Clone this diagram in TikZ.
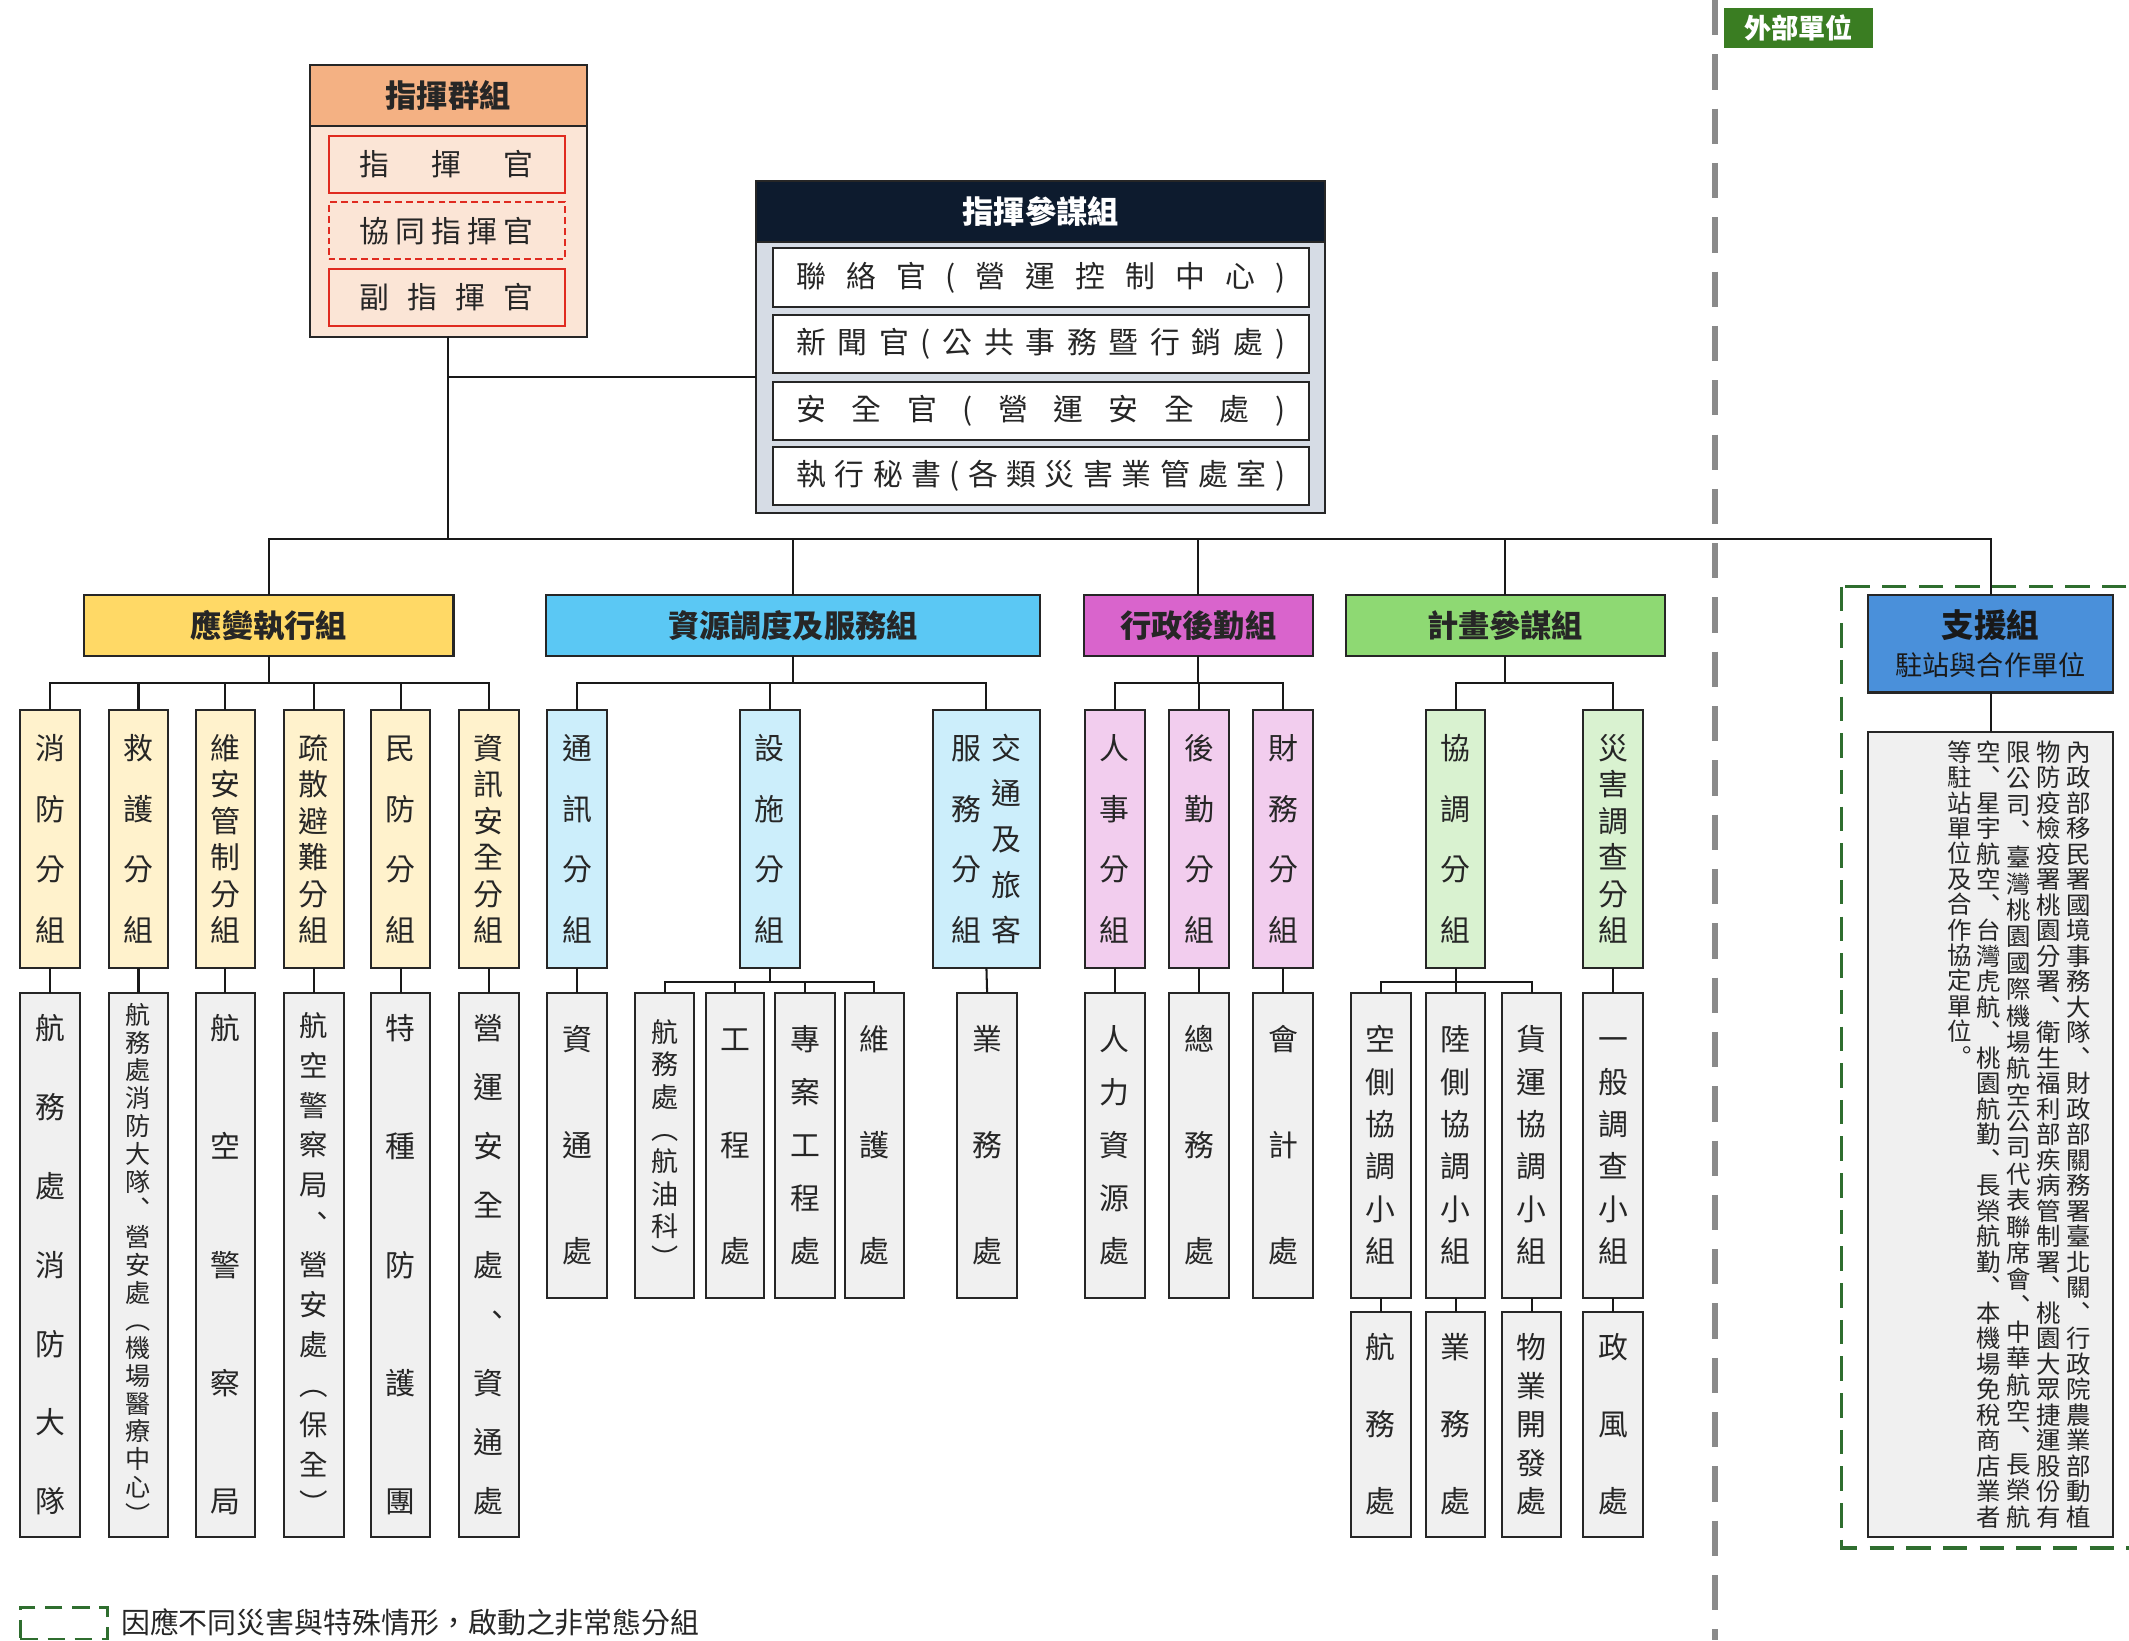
\documentclass[tikz,border=0pt]{standalone}
\usepackage{fontspec}
\setmainfont{Noto Sans CJK TC}
\definecolor{cgHead}{HTML}{F4B183}
\definecolor{cgBody}{HTML}{FBE5D6}
\definecolor{cgRed}{HTML}{E02B20}
\definecolor{csHead}{HTML}{0D1B2E}
\definecolor{csBody}{HTML}{D6DCE5}
\definecolor{yHead}{HTML}{FFD966}
\definecolor{ySub}{HTML}{FFF2CC}
\definecolor{bHead}{HTML}{5BC8F4}
\definecolor{bSub}{HTML}{CCEEFB}
\definecolor{pHead}{HTML}{D964CC}
\definecolor{pSub}{HTML}{F2CDEE}
\definecolor{gHead}{HTML}{8ED973}
\definecolor{gSub}{HTML}{D9F2D0}
\definecolor{sHead}{HTML}{4A90DA}
\definecolor{lowFill}{HTML}{F0F0F0}
\definecolor{extGreen}{HTML}{3A7D22}
\definecolor{dashGreen}{HTML}{2F6E2F}
\definecolor{divGray}{HTML}{8A8A8A}
\newcommand\lp{(}
\newcommand\rp{)}
% vertical stack, chars evenly spread: font size, span between first and last centre, list
\newcommand\VS[3]{%
  \fontsize{#1}{#1}\selectfont
  \vbox to \dimexpr #2pt+1em\relax{%
    \offinterlineskip
    \foreach \c [count=\i] in {#3}{%
      \ifnum\i>1 \vfill\fi
      \hbox to 1em{\hss\vrule height .88em depth .12em width 0pt\c\hss}}}}
% vertical stack with fixed pitch, top aligned
\newcommand\VSF[4]{%
  \fontsize{#1}{#1}\selectfont
  \vbox to \dimexpr #2pt+1em\relax{%
    \offinterlineskip
    \foreach \c [count=\i] in {#4}{%
      \ifnum\i>1 \vskip\dimexpr #3pt-1em\relax\fi
      \hbox to 1em{\hss\vrule height .88em depth .12em width 0pt\c\hss}}\vfill}}
% horizontal distributed text
\newcommand\HS[3]{%
  \fontsize{#1}{#1}\selectfont
  \hbox to #2pt{\foreach \c [count=\i] in {#3}{\ifnum\i>1 \hfill\fi\c}}}
% box by corners
\newcommand\B[7]{\node[#2,minimum width={(#5-#3)*1pt},minimum height={(#6-#4)*1pt}] (#1) at ({(#3+#5)/2},{(#4+#6)/2}) {#7};}
\tikzset{
  conn/.style={draw=black!90, line width=1.5pt},
  bx/.style={draw=black!85, line width=1.5pt, inner sep=0pt, outer sep=0pt, rectangle, text=black!85},
  hd/.style={bx, font=\bfseries\fontsize{23}{26}\selectfont},
  lo/.style={bx, fill=lowFill},
  redbox/.style={bx, draw=cgRed, fill=cgBody, line width=1.6pt},
  wbox/.style={bx, fill=white},
  divider/.style={draw=divGray, line width=4pt, dash pattern=on 26pt off 14pt},
  gdash/.style={draw=dashGreen, line width=2.4pt, dash pattern=on 18pt off 9pt},
}
\begin{document}
\begin{tikzpicture}[x=1pt,y=-1pt]
\useasboundingbox (0,0) rectangle (1568,1208);
\fill[white] (0,0) rectangle (1568,1208);
% separators
\draw[divider] (1263,0) -- (1263,1208);
\draw[gdash] (1356,432) rectangle (1590,1140);
\B{ext}{bx,draw=extGreen,fill=extGreen,text=white,line width=.8pt,font=\bfseries\fontsize{20}{22}\selectfont}{1270}{6}{1379}{35}{外部單位}

% command group
\B{cg}{bx,fill=cgBody}{228}{48}{432}{248}{}
\B{cgh}{hd,fill=cgHead}{228}{48}{432}{93}{指揮群組}
\B{cg1}{redbox}{242}{100}{416}{142}{\HS{22}{128}{指,揮,官}}
\B{cg2}{redbox,dash pattern=on 5pt off 3pt}{242}{149}{416}{191}{\HS{22}{128}{協,同,指,揮,官}}
\B{cg3}{redbox}{242}{198}{416}{240}{\HS{22}{128}{副,指,揮,官}}

% staff group
\B{cs}{bx,fill=csBody}{557}{133}{976}{378}{}
\B{csh}{hd,fill=csHead,text=white}{557}{133}{976}{178}{指揮參謀組}
\B{cs1}{wbox}{569}{183}{964}{226}{\HS{22}{360}{聯,絡,官,\lp,營,運,控,制,中,心,\rp}}
\B{cs2}{wbox}{569}{232}{964}{275}{\HS{22}{360}{新,聞,官,\lp,公,共,事,務,暨,行,銷,處,\rp}}
\B{cs3}{wbox}{569}{281}{964}{324}{\HS{22}{360}{安,全,官,\lp,營,運,安,全,處,\rp}}
\B{cs4}{wbox}{569}{329}{964}{372}{\HS{22}{360}{執,行,秘,書,\lp,各,類,災,害,業,管,處,室,\rp}}

% group headers
\B{g1}{hd,fill=yHead}{62}{438}{334}{483}{應變執行組}
\B{g2}{hd,fill=bHead}{402}{438}{766}{483}{資源調度及服務組}
\B{g3}{hd,fill=pHead}{798}{438}{967}{483}{行政後勤組}
\B{g4}{hd,fill=gHead}{991}{438}{1226}{483}{計畫參謀組}
\B{g5}{bx,fill=sHead,align=center,text=black!90,font=\fontsize{20}{28}\selectfont}{1376}{438}{1556}{510}{{\bfseries\fontsize{24}{28}\selectfont 支援組}\\駐站與合作單位}

% subgroups
\B{a1}{bx,fill=ySub}{15}{523}{59}{713}{\VS{22}{132}{消,防,分,組}}
\B{a2}{bx,fill=ySub}{80}{523}{124}{713}{\VS{22}{132}{救,護,分,組}}
\B{a3}{bx,fill=ySub}{144}{523}{188}{713}{\VS{22}{132}{維,安,管,制,分,組}}
\B{a4}{bx,fill=ySub}{209}{523}{253}{713}{\VS{22}{132}{疏,散,避,難,分,組}}
\B{a5}{bx,fill=ySub}{273}{523}{317}{713}{\VS{22}{132}{民,防,分,組}}
\B{a6}{bx,fill=ySub}{338}{523}{382}{713}{\VS{22}{132}{資,訊,安,全,分,組}}
\B{b1}{bx,fill=bSub}{403}{523}{447}{713}{\VS{22}{132}{通,訊,分,組}}
\B{b2}{bx,fill=bSub}{545}{523}{589}{713}{\VS{22}{132}{設,施,分,組}}
\B{b3}{bx,fill=bSub}{687}{523}{766}{713}{\hbox{\VS{22}{132}{服,務,分,組}\hspace{7pt}\VS{22}{132}{交,通,及,旅,客}}}
\B{c1}{bx,fill=pSub}{799}{523}{843}{713}{\VS{22}{132}{人,事,分,組}}
\B{c2}{bx,fill=pSub}{861}{523}{905}{713}{\VS{22}{132}{後,勤,分,組}}
\B{c3}{bx,fill=pSub}{923}{523}{967}{713}{\VS{22}{132}{財,務,分,組}}
\B{d1}{bx,fill=gSub}{1050}{523}{1094}{713}{\VS{22}{132}{協,調,分,組}}
\B{d2}{bx,fill=gSub}{1166}{523}{1210}{713}{\VS{22}{132}{災,害,調,查,分,組}}

% units
\B{A1}{lo}{15}{731}{59}{1132}{\VS{22}{346}{航,務,處,消,防,大,隊}}
\B{A2}{lo}{80}{731}{124}{1132}{\VS{18.5}{366}{航,務,處,消,防,大,隊,︑,營,安,處,︵,機,場,醫,療,中,心,︶}}
\B{A3}{lo}{144}{731}{188}{1132}{\VS{22}{346}{航,空,警,察,局}}
\B{A4}{lo}{209}{731}{253}{1132}{\VS{21}{350}{航,空,警,察,局,︑,營,安,處,︵,保,全,︶}}
\B{A5}{lo}{273}{731}{317}{1132}{\VS{22}{346}{特,種,防,護,團}}
\B{A6}{lo}{338}{731}{382}{1132}{\VS{22}{346}{營,運,安,全,處,︑,資,通,處}}
\B{B1}{lo}{403}{731}{447}{956}{\VS{22}{153}{資,通,處}}
\B{B2a}{lo}{468}{731}{511}{956}{\VS{20}{164}{航,務,處,︵,航,油,科,︶}}
\B{B2b}{lo}{520}{731}{563}{956}{\VS{22}{153}{工,程,處}}
\B{B2c}{lo}{571}{731}{615}{956}{\VS{22}{153}{專,案,工,程,處}}
\B{B2d}{lo}{622}{731}{666}{956}{\VS{22}{153}{維,護,處}}
\B{B3}{lo}{705}{731}{749}{956}{\VS{22}{153}{業,務,處}}
\B{C1}{lo}{799}{731}{843}{956}{\VS{22}{153}{人,力,資,源,處}}
\B{C2}{lo}{861}{731}{905}{956}{\VS{22}{153}{總,務,處}}
\B{C3}{lo}{923}{731}{967}{956}{\VS{22}{153}{會,計,處}}
\B{D1a}{lo}{995}{731}{1039}{956}{\VS{22}{153}{空,側,協,調,小,組}}
\B{D1b}{lo}{1050}{731}{1094}{956}{\VS{22}{153}{陸,側,協,調,小,組}}
\B{D1c}{lo}{1106}{731}{1150}{956}{\VS{22}{153}{貨,運,協,調,小,組}}
\B{D2}{lo}{1166}{731}{1210}{956}{\VS{22}{153}{一,般,調,查,小,組}}
\B{E1}{lo}{995}{966}{1039}{1132}{\VS{22}{111}{航,務,處}}
\B{E2}{lo}{1050}{966}{1094}{1132}{\VS{22}{111}{業,務,處}}
\B{E3}{lo}{1106}{966}{1150}{1132}{\VS{22}{111}{物,業,開,發,處}}
\B{E4}{lo}{1166}{966}{1210}{1132}{\VS{22}{111}{政,風,處}}

% support units text
\B{S}{lo}{1376}{539}{1556}{1132}{\hbox{\hspace*{42pt}%
\VSF{18}{561}{18.7}{等,駐,站,單,位,及,合,作,協,定,單,位,︒}\hspace{4pt}%
\VS{18}{561}{空,︑,星,宇,航,空,︑,台,灣,虎,航,︑,桃,園,航,勤,︑,長,榮,航,勤,︑,本,機,場,免,稅,商,店,業,者}\hspace{4pt}%
\VS{18}{561}{限,公,司,︑,臺,灣,桃,園,國,際,機,場,航,空,公,司,代,表,聯,席,會,︑,中,華,航,空,︑,長,榮,航}\hspace{4pt}%
\VS{18}{561}{物,防,疫,檢,疫,署,桃,園,分,署,︑,衛,生,福,利,部,疾,病,管,制,署,︑,桃,園,大,眾,捷,運,股,份,有}\hspace{4pt}%
\VS{18}{561}{內,政,部,移,民,署,國,境,事,務,大,隊,︑,財,政,部,關,務,署,臺,北,關,︑,行,政,院,農,業,部,動,植}}}

% legend
\B{legkey}{draw=dashGreen,line width=2pt,dash pattern=on 13pt off 7pt,inner sep=0pt,outer sep=0pt}{15}{1184}{79}{1207}{}
\node[anchor=west,inner sep=0pt,text=black!85,font=\fontsize{21.3}{24}\selectfont] (legtxt) at (89,1195) {因應不同災害與特殊情形，啟動之非常態分組};

% connectors
\draw[conn] (cg.south) |- ([yshift=-22pt]cs.west);
\foreach \g in {g1,g2,g3,g4,g5} \draw[conn] (cg.south) -- ++(0,149) -| (\g.north);
\foreach \s in {a1,a2,a3,a4,a5,a6} \draw[conn] (g1.south) -- ++(0,20) -| (\s.north);
\foreach \s in {b1,b2,b3} \draw[conn] (g2.south) -- ++(0,20) -| (\s.north);
\foreach \s in {c1,c2,c3} \draw[conn] (g3.south) -- ++(0,20) -| (\s.north);
\foreach \s in {d1,d2} \draw[conn] (g4.south) -- ++(0,20) -| (\s.north);
\foreach \u/\l in {a1/A1,a2/A2,a3/A3,a4/A4,a5/A5,a6/A6,b1/B1,b3/B3,c1/C1,c2/C2,c3/C3,d2/D2,D1a/E1,D1b/E2,D1c/E3,D2/E4,g5/S}
  \draw[conn] (\u.south) -- (\l.north);
\foreach \s in {B2a,B2b,B2c,B2d} \draw[conn] (b2.south) -- ++(0,10) -| (\s.north);
\foreach \s in {D1a,D1b,D1c} \draw[conn] (d1.south) -- ++(0,10) -| (\s.north);
\end{tikzpicture}
\end{document}
